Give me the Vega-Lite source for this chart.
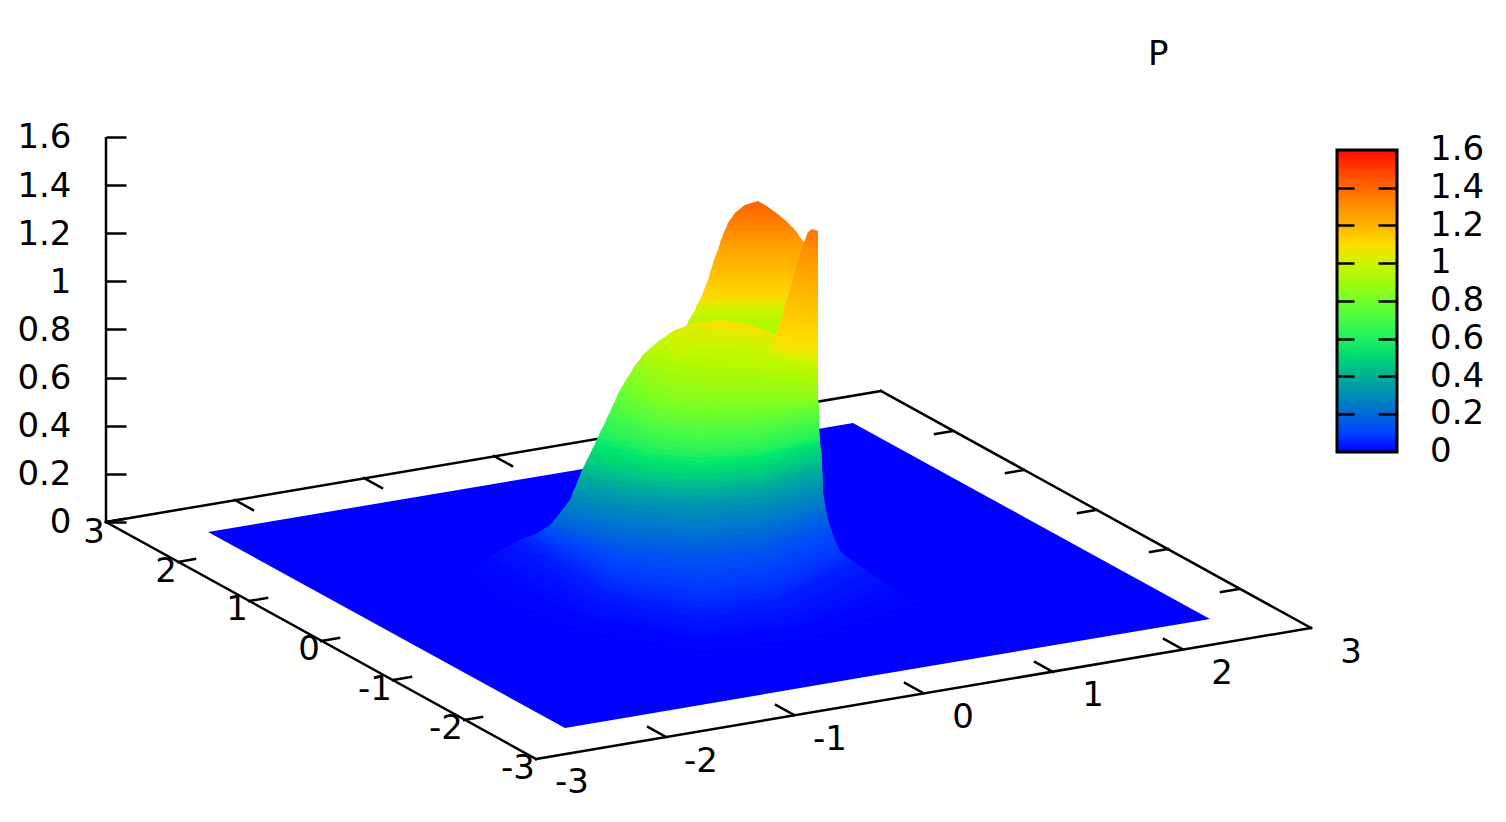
{"$schema":"https://vega.github.io/schema/vega-lite/v6.json","width":1506,"height":822,"autosize":"none","padding":0,"background":"white","config":{"view":{"stroke":null}},
"title":{"text":"P","anchor":"start","frame":"group","dx":1148,"dy":99,"offset":0,"fontSize":34,"font":"DejaVu Sans","fontWeight":"normal","color":"black","baseline":"alphabetic"},
"datasets":{
"plane":[{"x":208,"t":532,"b":532,"z":0},{"x":565,"t":472,"b":728,"z":0},{"x":853,"t":423,"b":679,"z":0},{"x":1210,"t":619,"b":619,"z":0}],
"lines":[{"x":106,"y":522,"x2":536,"y2":759},{"x":536,"y":759,"x2":1311,"y2":628},{"x":1311,"y":628,"x2":881,"y2":391},{"x":881,"y":391,"x2":106,"y2":522},
{"x":666,"y":737,"x2":648,"y2":727},{"x":794,"y":715,"x2":776,"y2":705},{"x":923,"y":693,"x2":905,"y2":683},{"x":1053,"y":672,"x2":1035,"y2":662},{"x":1182,"y":649,"x2":1164,"y2":639},
{"x":106,"y":522,"x2":124,"y2":519},{"x":178,"y":562,"x2":195,"y2":559},{"x":249,"y":601,"x2":267,"y2":598},{"x":321,"y":641,"x2":339,"y2":638},{"x":393,"y":680,"x2":411,"y2":677},{"x":464,"y":720,"x2":482,"y2":717},
{"x":953,"y":431,"x2":935,"y2":434},{"x":1024,"y":470,"x2":1006,"y2":473},{"x":1096,"y":510,"x2":1078,"y2":513},{"x":1168,"y":549,"x2":1150,"y2":552},{"x":1239,"y":589,"x2":1221,"y2":592},
{"x":235,"y":500,"x2":253,"y2":510},{"x":364,"y":478,"x2":382,"y2":488},{"x":494,"y":456,"x2":512,"y2":466},{"x":623,"y":435,"x2":641,"y2":445},{"x":752,"y":413,"x2":770,"y2":423}],
"barticks":[{"x":1337,"v":0.2},{"x":1337,"v":0.4},{"x":1337,"v":0.6},{"x":1337,"v":0.8},{"x":1337,"v":1},{"x":1337,"v":1.2},{"x":1337,"v":1.4}],
"labels":[{"s":"3","x":94,"y":531},{"s":"2","x":166,"y":570},{"s":"1","x":237,"y":608},{"s":"0","x":309,"y":648},{"s":"-1","x":375,"y":688},{"s":"-2","x":446,"y":727},{"s":"-3","x":518,"y":767},
{"s":"-3","x":572,"y":781},{"s":"-2","x":701,"y":760},{"s":"-1","x":830,"y":738},{"s":"0","x":963,"y":716},{"s":"1","x":1093,"y":694},{"s":"2","x":1222,"y":672},{"s":"3","x":1351,"y":651}],
"zaxis":[{"x":106,"z0":0,"z1":1.6}],
"surface":[
{"k":0,"z":0.88,"x":675,"t":360,"b":360},{"k":0,"z":0.88,"x":680,"t":345,"b":360},{"k":0,"z":0.88,"x":810,"t":345,"b":360},
{"k":1,"z":0.9,"x":680,"t":345,"b":345},{"k":1,"z":0.9,"x":685,"t":330,"b":345},{"k":1,"z":0.9,"x":810,"t":330,"b":345},
{"k":1.5,"z":0.915,"x":683,"t":338,"b":338},{"k":1.5,"z":0.915,"x":685,"t":330,"b":338},{"k":1.5,"z":0.915,"x":810,"t":330,"b":338},
{"k":2,"z":0.93,"x":685,"t":330,"b":330},{"k":2,"z":0.93,"x":689,"t":320,"b":330},{"k":2,"z":0.93,"x":810,"t":320,"b":330},
{"k":2.5,"z":0.945,"x":687,"t":325,"b":325},{"k":2.5,"z":0.945,"x":689,"t":320,"b":325},{"k":2.5,"z":0.945,"x":810,"t":320,"b":325},
{"k":3,"z":0.96,"x":689,"t":320,"b":320},{"k":3,"z":0.96,"x":694,"t":312,"b":320},{"k":3,"z":0.96,"x":810,"t":312,"b":320},
{"k":3.5,"z":0.98,"x":692,"t":316,"b":316},{"k":3.5,"z":0.98,"x":694,"t":312,"b":316},{"k":3.5,"z":0.98,"x":810,"t":312,"b":316},
{"k":4,"z":1.0,"x":694,"t":312,"b":312},{"k":4,"z":1.0,"x":697,"t":305,"b":312},{"k":4,"z":1.0,"x":810,"t":305,"b":312},
{"k":4.5,"z":1.02,"x":696,"t":309,"b":309},{"k":4.5,"z":1.02,"x":697,"t":305,"b":309},{"k":4.5,"z":1.02,"x":810,"t":305,"b":309},
{"k":5,"z":1.05,"x":697,"t":305,"b":305},{"k":5,"z":1.05,"x":701,"t":298,"b":305},{"k":5,"z":1.05,"x":810,"t":298,"b":305},
{"k":5.5,"z":1.08,"x":699,"t":302,"b":302},{"k":5.5,"z":1.08,"x":701,"t":298,"b":302},{"k":5.5,"z":1.08,"x":810,"t":298,"b":302},
{"k":6,"z":1.11,"x":701,"t":298,"b":298},{"k":6,"z":1.11,"x":704,"t":290,"b":298},{"k":6,"z":1.11,"x":810,"t":290,"b":298},
{"k":6.5,"z":1.12,"x":703,"t":294,"b":294},{"k":6.5,"z":1.12,"x":704,"t":290,"b":294},{"k":6.5,"z":1.12,"x":810,"t":290,"b":294},
{"k":7,"z":1.13,"x":704,"t":290,"b":290},{"k":7,"z":1.13,"x":708,"t":280,"b":290},{"k":7,"z":1.13,"x":810,"t":280,"b":290},
{"k":7.5,"z":1.145,"x":706,"t":285,"b":285},{"k":7.5,"z":1.145,"x":708,"t":280,"b":285},{"k":7.5,"z":1.145,"x":810,"t":280,"b":285},
{"k":8,"z":1.16,"x":708,"t":280,"b":280},{"k":8,"z":1.16,"x":711,"t":270,"b":280},{"k":8,"z":1.16,"x":810,"t":270,"b":280},
{"k":8.5,"z":1.175,"x":710,"t":275,"b":275},{"k":8.5,"z":1.175,"x":711,"t":270,"b":275},{"k":8.5,"z":1.175,"x":810,"t":270,"b":275},
{"k":9,"z":1.19,"x":711,"t":270,"b":270},{"k":9,"z":1.19,"x":714,"t":260,"b":270},{"k":9,"z":1.19,"x":810,"t":260,"b":270},
{"k":9.5,"z":1.205,"x":713,"t":265,"b":265},{"k":9.5,"z":1.205,"x":714,"t":260,"b":265},{"k":9.5,"z":1.205,"x":810,"t":260,"b":265},
{"k":10,"z":1.22,"x":714,"t":260,"b":260},{"k":10,"z":1.22,"x":718,"t":250,"b":260},{"k":10,"z":1.22,"x":810,"t":250,"b":260},
{"k":10.5,"z":1.235,"x":716,"t":255,"b":255},{"k":10.5,"z":1.235,"x":718,"t":250,"b":255},{"k":10.5,"z":1.235,"x":810,"t":250,"b":255},
{"k":11,"z":1.25,"x":718,"t":250,"b":250},{"k":11,"z":1.25,"x":721,"t":240,"b":250},{"k":11,"z":1.25,"x":802,"t":240,"b":250},{"k":11,"z":1.25,"x":810,"t":250,"b":250},
{"k":11.5,"z":1.27,"x":720,"t":245,"b":245},{"k":11.5,"z":1.27,"x":721,"t":240,"b":245},{"k":11.5,"z":1.27,"x":802,"t":240,"b":245},{"k":11.5,"z":1.27,"x":806,"t":245,"b":245},
{"k":12,"z":1.29,"x":721,"t":240,"b":240},{"k":12,"z":1.29,"x":725,"t":230,"b":240},{"k":12,"z":1.29,"x":795,"t":230,"b":240},{"k":12,"z":1.29,"x":802,"t":240,"b":240},
{"k":12.5,"z":1.31,"x":723,"t":235,"b":235},{"k":12.5,"z":1.31,"x":725,"t":230,"b":235},{"k":12.5,"z":1.31,"x":795,"t":230,"b":235},{"k":12.5,"z":1.31,"x":798.5,"t":235,"b":235},
{"k":13,"z":1.33,"x":725,"t":230,"b":230},{"k":13,"z":1.33,"x":730,"t":220,"b":230},{"k":13,"z":1.33,"x":785,"t":220,"b":230},{"k":13,"z":1.33,"x":795,"t":230,"b":230},
{"k":13.5,"z":1.35,"x":727,"t":225,"b":225},{"k":13.5,"z":1.35,"x":730,"t":220,"b":225},{"k":13.5,"z":1.35,"x":785,"t":220,"b":225},{"k":13.5,"z":1.35,"x":790,"t":225,"b":225},
{"k":14,"z":1.37,"x":730,"t":220,"b":220},{"k":14,"z":1.37,"x":736,"t":212,"b":220},{"k":14,"z":1.37,"x":775,"t":212,"b":220},{"k":14,"z":1.37,"x":785,"t":220,"b":220},
{"k":14.5,"z":1.38,"x":733,"t":216,"b":216},{"k":14.5,"z":1.38,"x":736,"t":212,"b":216},{"k":14.5,"z":1.38,"x":775,"t":212,"b":216},{"k":14.5,"z":1.38,"x":780,"t":216,"b":216},
{"k":15,"z":1.39,"x":736,"t":212,"b":212},{"k":15,"z":1.39,"x":745,"t":205,"b":212},{"k":15,"z":1.39,"x":765,"t":205,"b":212},{"k":15,"z":1.39,"x":775,"t":212,"b":212},
{"k":15.5,"z":1.4,"x":740,"t":209,"b":209},{"k":15.5,"z":1.4,"x":745,"t":205,"b":209},{"k":15.5,"z":1.4,"x":765,"t":205,"b":209},{"k":15.5,"z":1.4,"x":770,"t":209,"b":209},
{"k":16,"z":1.41,"x":745,"t":205,"b":205},{"k":16,"z":1.41,"x":758,"t":201,"b":205},{"k":16,"z":1.41,"x":765,"t":205,"b":205},
{"k":20,"z":0.003,"x":465,"t":570,"b":570},{"k":20,"z":0.003,"x":500,"t":555,"b":600},{"k":20,"z":0.003,"x":580,"t":560,"b":632},{"k":20,"z":0.003,"x":700,"t":570,"b":652},{"k":20,"z":0.003,"x":810,"t":580,"b":640},{"k":20,"z":0.003,"x":900,"t":592,"b":610},{"k":20,"z":0.003,"x":925,"t":600,"b":600},
{"k":21,"z":0.008,"x":478,"t":562,"b":562},{"k":21,"z":0.008,"x":503,"t":549,"b":579},{"k":21,"z":0.008,"x":589,"t":556,"b":620},{"k":21,"z":0.008,"x":700,"t":565,"b":640},{"k":21,"z":0.008,"x":800,"t":573,"b":628},{"k":21,"z":0.008,"x":880,"t":580,"b":601},{"k":21,"z":0.008,"x":900,"t":592,"b":592},
{"k":21.5,"z":0.014,"x":491,"t":555,"b":555},{"k":21.5,"z":0.014,"x":503,"t":549,"b":564},{"k":21.5,"z":0.014,"x":589,"t":556,"b":614},{"k":21.5,"z":0.014,"x":700,"t":565,"b":634},{"k":21.5,"z":0.014,"x":800,"t":573,"b":622},{"k":21.5,"z":0.014,"x":880,"t":580,"b":590},{"k":21.5,"z":0.014,"x":890,"t":586,"b":586},
{"k":22,"z":0.022,"x":503,"t":549,"b":549},{"k":22,"z":0.022,"x":520,"t":540,"b":562},{"k":22,"z":0.022,"x":601,"t":545,"b":608},{"k":22,"z":0.022,"x":700,"t":552,"b":628},{"k":22,"z":0.022,"x":790,"t":558,"b":616},{"k":22,"z":0.022,"x":855,"t":562,"b":592},{"k":22,"z":0.022,"x":880,"t":580,"b":580},
{"k":22.5,"z":0.035,"x":512,"t":544,"b":544},{"k":22.5,"z":0.035,"x":520,"t":540,"b":551},{"k":22.5,"z":0.035,"x":601,"t":545,"b":601},{"k":22.5,"z":0.035,"x":700,"t":552,"b":620},{"k":22.5,"z":0.035,"x":790,"t":558,"b":608},{"k":22.5,"z":0.035,"x":855,"t":562,"b":577},{"k":22.5,"z":0.035,"x":867,"t":571,"b":571},
{"k":23,"z":0.05,"x":520,"t":540,"b":540},{"k":23,"z":0.05,"x":530,"t":536,"b":548},{"k":23,"z":0.05,"x":610,"t":541,"b":594},{"k":23,"z":0.05,"x":700,"t":547,"b":612},{"k":23,"z":0.05,"x":778,"t":552,"b":600},{"k":23,"z":0.05,"x":847,"t":557,"b":567},{"k":23,"z":0.05,"x":855,"t":562,"b":562},
{"k":23.5,"z":0.06,"x":525,"t":538,"b":538},{"k":23.5,"z":0.06,"x":530,"t":536,"b":542},{"k":23.5,"z":0.06,"x":610,"t":541,"b":590},{"k":23.5,"z":0.06,"x":700,"t":547,"b":607},{"k":23.5,"z":0.06,"x":778,"t":552,"b":596},{"k":23.5,"z":0.06,"x":847,"t":557,"b":562},{"k":23.5,"z":0.06,"x":851,"t":560,"b":560},
{"k":24,"z":0.07,"x":530,"t":536,"b":536},{"k":24,"z":0.07,"x":536,"t":534,"b":541},{"k":24,"z":0.07,"x":615,"t":538,"b":585},{"k":24,"z":0.07,"x":700,"t":543,"b":602},{"k":24,"z":0.07,"x":774,"t":547,"b":591},{"k":24,"z":0.07,"x":840,"t":551,"b":561},{"k":24,"z":0.07,"x":847,"t":557,"b":557},
{"k":24.5,"z":0.08,"x":533,"t":535,"b":535},{"k":24.5,"z":0.08,"x":536,"t":534,"b":538},{"k":24.5,"z":0.08,"x":615,"t":538,"b":580},{"k":24.5,"z":0.08,"x":700,"t":543,"b":596},{"k":24.5,"z":0.08,"x":774,"t":547,"b":586},{"k":24.5,"z":0.08,"x":840,"t":551,"b":556},{"k":24.5,"z":0.08,"x":844,"t":554,"b":554},
{"k":25,"z":0.09,"x":536,"t":534,"b":534},{"k":25,"z":0.09,"x":542,"t":530,"b":538},{"k":25,"z":0.09,"x":618,"t":532,"b":576},{"k":25,"z":0.09,"x":700,"t":534,"b":590},{"k":25,"z":0.09,"x":770,"t":536,"b":580},{"k":25,"z":0.09,"x":834,"t":538,"b":554},{"k":25,"z":0.09,"x":840,"t":551,"b":551},
{"k":25.5,"z":0.105,"x":539,"t":532,"b":532},{"k":25.5,"z":0.105,"x":542,"t":530,"b":534},{"k":25.5,"z":0.105,"x":618,"t":532,"b":569},{"k":25.5,"z":0.105,"x":700,"t":534,"b":581},{"k":25.5,"z":0.105,"x":770,"t":536,"b":572},{"k":25.5,"z":0.105,"x":834,"t":538,"b":546},{"k":25.5,"z":0.105,"x":837,"t":544,"b":544},
{"k":26,"z":0.12,"x":542,"t":530,"b":530},{"k":26,"z":0.12,"x":547,"t":527,"b":533},{"k":26,"z":0.12,"x":621,"t":527,"b":562},{"k":26,"z":0.12,"x":700,"t":527,"b":573},{"k":26,"z":0.12,"x":767,"t":527,"b":564},{"k":26,"z":0.12,"x":830,"t":526,"b":540},{"k":26,"z":0.12,"x":834,"t":538,"b":538},
{"k":26.5,"z":0.135,"x":545,"t":528,"b":528},{"k":26.5,"z":0.135,"x":547,"t":527,"b":530},{"k":26.5,"z":0.135,"x":621,"t":527,"b":556},{"k":26.5,"z":0.135,"x":700,"t":527,"b":566},{"k":26.5,"z":0.135,"x":767,"t":527,"b":557},{"k":26.5,"z":0.135,"x":830,"t":526,"b":533},{"k":26.5,"z":0.135,"x":832,"t":532,"b":532},
{"k":27,"z":0.15,"x":547,"t":527,"b":527},{"k":27,"z":0.15,"x":550,"t":525,"b":528},{"k":27,"z":0.15,"x":623,"t":524,"b":551},{"k":27,"z":0.15,"x":700,"t":522,"b":559},{"k":27,"z":0.15,"x":765,"t":521,"b":551},{"k":27,"z":0.15,"x":828,"t":520,"b":527},{"k":27,"z":0.15,"x":830,"t":526,"b":526},
{"k":27.5,"z":0.165,"x":549,"t":526,"b":526},{"k":27.5,"z":0.165,"x":550,"t":525,"b":526},{"k":27.5,"z":0.165,"x":623,"t":524,"b":547},{"k":27.5,"z":0.165,"x":700,"t":522,"b":554},{"k":27.5,"z":0.165,"x":765,"t":521,"b":546},{"k":27.5,"z":0.165,"x":828,"t":520,"b":523},{"k":27.5,"z":0.165,"x":829,"t":523,"b":523},
{"k":28,"z":0.18,"x":550,"t":525,"b":525},{"k":28,"z":0.18,"x":556,"t":518,"b":527},{"k":28,"z":0.18,"x":625,"t":516,"b":543},{"k":28,"z":0.18,"x":700,"t":514,"b":549},{"k":28,"z":0.18,"x":764,"t":512,"b":542},{"k":28,"z":0.18,"x":826,"t":510,"b":521},{"k":28,"z":0.18,"x":828,"t":520,"b":520},
{"k":28.5,"z":0.195,"x":553,"t":521,"b":521},{"k":28.5,"z":0.195,"x":556,"t":518,"b":522},{"k":28.5,"z":0.195,"x":625,"t":516,"b":539},{"k":28.5,"z":0.195,"x":700,"t":514,"b":544},{"k":28.5,"z":0.195,"x":764,"t":512,"b":537},{"k":28.5,"z":0.195,"x":826,"t":510,"b":515},{"k":28.5,"z":0.195,"x":827,"t":515,"b":515},
{"k":29,"z":0.21,"x":556,"t":518,"b":518},{"k":29,"z":0.21,"x":563,"t":509,"b":520},{"k":29,"z":0.21,"x":628,"t":508,"b":535},{"k":29,"z":0.21,"x":700,"t":506,"b":540},{"k":29,"z":0.21,"x":763,"t":505,"b":532},{"k":29,"z":0.21,"x":825,"t":504,"b":511},{"k":29,"z":0.21,"x":826,"t":510,"b":510},
{"k":29.5,"z":0.23,"x":560,"t":513,"b":513},{"k":29.5,"z":0.23,"x":563,"t":509,"b":514},{"k":29.5,"z":0.23,"x":628,"t":508,"b":529},{"k":29.5,"z":0.23,"x":700,"t":506,"b":534},{"k":29.5,"z":0.23,"x":763,"t":505,"b":527},{"k":29.5,"z":0.23,"x":825,"t":504,"b":507},{"k":29.5,"z":0.23,"x":825.5,"t":507,"b":507},
{"k":30,"z":0.25,"x":563,"t":509,"b":509},{"k":30,"z":0.25,"x":570,"t":500,"b":511},{"k":30,"z":0.25,"x":632,"t":498,"b":523},{"k":30,"z":0.25,"x":700,"t":496,"b":528},{"k":30,"z":0.25,"x":762,"t":495,"b":522},{"k":30,"z":0.25,"x":823,"t":493,"b":505},{"k":30,"z":0.25,"x":825,"t":504,"b":504},
{"k":30.5,"z":0.275,"x":566,"t":505,"b":505},{"k":30.5,"z":0.275,"x":570,"t":500,"b":505},{"k":30.5,"z":0.275,"x":632,"t":498,"b":517},{"k":30.5,"z":0.275,"x":700,"t":496,"b":521},{"k":30.5,"z":0.275,"x":762,"t":495,"b":515},{"k":30.5,"z":0.275,"x":823,"t":493,"b":499},{"k":30.5,"z":0.275,"x":824,"t":498,"b":498},
{"k":31,"z":0.3,"x":570,"t":500,"b":500},{"k":31,"z":0.3,"x":575,"t":488,"b":501},{"k":31,"z":0.3,"x":635,"t":486,"b":511},{"k":31,"z":0.3,"x":700,"t":484,"b":515},{"k":31,"z":0.3,"x":761,"t":482,"b":509},{"k":31,"z":0.3,"x":823,"t":480,"b":493},
{"k":31.5,"z":0.325,"x":572,"t":494,"b":494},{"k":31.5,"z":0.325,"x":575,"t":488,"b":495},{"k":31.5,"z":0.325,"x":635,"t":486,"b":505},{"k":31.5,"z":0.325,"x":700,"t":484,"b":509},{"k":31.5,"z":0.325,"x":761,"t":482,"b":503},{"k":31.5,"z":0.325,"x":823,"t":480,"b":487},
{"k":32,"z":0.35,"x":575,"t":488,"b":488},{"k":32,"z":0.35,"x":579,"t":478,"b":489},{"k":32,"z":0.35,"x":637,"t":476,"b":499},{"k":32,"z":0.35,"x":700,"t":474,"b":503},{"k":32,"z":0.35,"x":761,"t":472,"b":497},{"k":32,"z":0.35,"x":822,"t":470,"b":481},{"k":32,"z":0.35,"x":823,"t":480,"b":480},
{"k":32.5,"z":0.375,"x":577,"t":483,"b":483},{"k":32.5,"z":0.375,"x":579,"t":478,"b":484},{"k":32.5,"z":0.375,"x":637,"t":476,"b":495},{"k":32.5,"z":0.375,"x":700,"t":474,"b":499},{"k":32.5,"z":0.375,"x":761,"t":472,"b":493},{"k":32.5,"z":0.375,"x":822,"t":470,"b":476},{"k":32.5,"z":0.375,"x":822.5,"t":475,"b":475},
{"k":33,"z":0.4,"x":579,"t":478,"b":478},{"k":33,"z":0.4,"x":583,"t":468,"b":479},{"k":33,"z":0.4,"x":640,"t":466,"b":490},{"k":33,"z":0.4,"x":700,"t":464,"b":494},{"k":33,"z":0.4,"x":761,"t":462,"b":488},{"k":33,"z":0.4,"x":822,"t":460,"b":470},
{"k":33.5,"z":0.425,"x":581,"t":473,"b":473},{"k":33.5,"z":0.425,"x":583,"t":468,"b":474},{"k":33.5,"z":0.425,"x":640,"t":466,"b":485},{"k":33.5,"z":0.425,"x":700,"t":464,"b":489},{"k":33.5,"z":0.425,"x":761,"t":462,"b":483},{"k":33.5,"z":0.425,"x":822,"t":460,"b":465},
{"k":34,"z":0.45,"x":583,"t":468,"b":468},{"k":34,"z":0.45,"x":588,"t":458,"b":469},{"k":34,"z":0.45,"x":641,"t":456,"b":480},{"k":34,"z":0.45,"x":700,"t":454,"b":484},{"k":34,"z":0.45,"x":761,"t":452,"b":478},{"k":34,"z":0.45,"x":821,"t":450,"b":461},{"k":34,"z":0.45,"x":822,"t":460,"b":460},
{"k":34.5,"z":0.475,"x":586,"t":463,"b":463},{"k":34.5,"z":0.475,"x":588,"t":458,"b":464},{"k":34.5,"z":0.475,"x":641,"t":456,"b":476},{"k":34.5,"z":0.475,"x":700,"t":454,"b":480},{"k":34.5,"z":0.475,"x":761,"t":452,"b":474},{"k":34.5,"z":0.475,"x":821,"t":450,"b":456},{"k":34.5,"z":0.475,"x":821.5,"t":455,"b":455},
{"k":35,"z":0.5,"x":588,"t":458,"b":458},{"k":35,"z":0.5,"x":593,"t":448,"b":459},{"k":35,"z":0.5,"x":644,"t":447,"b":471},{"k":35,"z":0.5,"x":700,"t":446,"b":475},{"k":35,"z":0.5,"x":760,"t":444,"b":469},{"k":35,"z":0.5,"x":820,"t":443,"b":451},{"k":35,"z":0.5,"x":821,"t":450,"b":450},
{"k":35.5,"z":0.525,"x":591,"t":453,"b":453},{"k":35.5,"z":0.525,"x":593,"t":448,"b":454},{"k":35.5,"z":0.525,"x":644,"t":447,"b":466},{"k":35.5,"z":0.525,"x":700,"t":446,"b":470},{"k":35.5,"z":0.525,"x":760,"t":444,"b":465},{"k":35.5,"z":0.525,"x":820,"t":443,"b":447},{"k":35.5,"z":0.525,"x":820.5,"t":447,"b":447},
{"k":36,"z":0.55,"x":593,"t":448,"b":448},{"k":36,"z":0.55,"x":598,"t":437,"b":449},{"k":36,"z":0.55,"x":646,"t":437,"b":461},{"k":36,"z":0.55,"x":700,"t":437,"b":466},{"k":36,"z":0.55,"x":760,"t":438,"b":460},{"k":36,"z":0.55,"x":820,"t":438,"b":443},
{"k":36.5,"z":0.575,"x":596,"t":442,"b":442},{"k":36.5,"z":0.575,"x":598,"t":437,"b":443},{"k":36.5,"z":0.575,"x":646,"t":437,"b":457},{"k":36.5,"z":0.575,"x":700,"t":437,"b":462},{"k":36.5,"z":0.575,"x":760,"t":438,"b":456},{"k":36.5,"z":0.575,"x":820,"t":438,"b":441},
{"k":37,"z":0.6,"x":598,"t":437,"b":437},{"k":37,"z":0.6,"x":603,"t":427,"b":439},{"k":37,"z":0.6,"x":649,"t":428,"b":453},{"k":37,"z":0.6,"x":700,"t":428,"b":458},{"k":37,"z":0.6,"x":760,"t":429,"b":453},{"k":37,"z":0.6,"x":819,"t":430,"b":439},{"k":37,"z":0.6,"x":820,"t":438,"b":438},
{"k":37.5,"z":0.625,"x":600,"t":432,"b":432},{"k":37.5,"z":0.625,"x":603,"t":427,"b":433},{"k":37.5,"z":0.625,"x":649,"t":428,"b":448},{"k":37.5,"z":0.625,"x":700,"t":428,"b":454},{"k":37.5,"z":0.625,"x":760,"t":429,"b":449},{"k":37.5,"z":0.625,"x":819,"t":430,"b":435},{"k":37.5,"z":0.625,"x":819.5,"t":434,"b":434},
{"k":38,"z":0.65,"x":603,"t":427,"b":427},{"k":38,"z":0.65,"x":609,"t":414,"b":430},{"k":38,"z":0.65,"x":651,"t":416,"b":444},{"k":38,"z":0.65,"x":700,"t":417,"b":450},{"k":38,"z":0.65,"x":759,"t":420,"b":445},{"k":38,"z":0.65,"x":819,"t":422,"b":430},
{"k":38.5,"z":0.675,"x":606,"t":420,"b":420},{"k":38.5,"z":0.675,"x":609,"t":414,"b":422},{"k":38.5,"z":0.675,"x":651,"t":416,"b":438},{"k":38.5,"z":0.675,"x":700,"t":417,"b":445},{"k":38.5,"z":0.675,"x":759,"t":420,"b":440},{"k":38.5,"z":0.675,"x":819,"t":422,"b":426},
{"k":39,"z":0.7,"x":609,"t":414,"b":414},{"k":39,"z":0.7,"x":614,"t":403,"b":417},{"k":39,"z":0.7,"x":654,"t":405,"b":433},{"k":39,"z":0.7,"x":700,"t":408,"b":440},{"k":39,"z":0.7,"x":759,"t":411,"b":435},{"k":39,"z":0.7,"x":819,"t":414,"b":422},
{"k":39.5,"z":0.725,"x":612,"t":408,"b":408},{"k":39.5,"z":0.725,"x":614,"t":403,"b":410},{"k":39.5,"z":0.725,"x":654,"t":405,"b":428},{"k":39.5,"z":0.725,"x":700,"t":408,"b":434},{"k":39.5,"z":0.725,"x":759,"t":411,"b":430},{"k":39.5,"z":0.725,"x":819,"t":414,"b":418},
{"k":40,"z":0.75,"x":614,"t":403,"b":403},{"k":40,"z":0.75,"x":620,"t":390,"b":406},{"k":40,"z":0.75,"x":657,"t":393,"b":422},{"k":40,"z":0.75,"x":700,"t":396,"b":428},{"k":40,"z":0.75,"x":759,"t":401,"b":424},{"k":40,"z":0.75,"x":819,"t":406,"b":414},
{"k":40.5,"z":0.775,"x":617,"t":396,"b":396},{"k":40.5,"z":0.775,"x":620,"t":390,"b":398},{"k":40.5,"z":0.775,"x":657,"t":393,"b":415},{"k":40.5,"z":0.775,"x":700,"t":396,"b":422},{"k":40.5,"z":0.775,"x":759,"t":401,"b":418},{"k":40.5,"z":0.775,"x":819,"t":406,"b":410},
{"k":41,"z":0.8,"x":620,"t":390,"b":390},{"k":41,"z":0.8,"x":628,"t":377,"b":394},{"k":41,"z":0.8,"x":660,"t":381,"b":409},{"k":41,"z":0.8,"x":700,"t":386,"b":415},{"k":41,"z":0.8,"x":759,"t":393,"b":412},{"k":41,"z":0.8,"x":818,"t":400,"b":407},{"k":41,"z":0.8,"x":819,"t":406,"b":406},
{"k":41.5,"z":0.825,"x":624,"t":383,"b":383},{"k":41.5,"z":0.825,"x":628,"t":377,"b":385},{"k":41.5,"z":0.825,"x":660,"t":381,"b":403},{"k":41.5,"z":0.825,"x":700,"t":386,"b":408},{"k":41.5,"z":0.825,"x":759,"t":393,"b":406},{"k":41.5,"z":0.825,"x":818,"t":400,"b":403},{"k":41.5,"z":0.825,"x":818.5,"t":403,"b":403},
{"k":42,"z":0.85,"x":628,"t":377,"b":377},{"k":42,"z":0.85,"x":637,"t":363,"b":382},{"k":42,"z":0.85,"x":664,"t":367,"b":396},{"k":42,"z":0.85,"x":700,"t":372,"b":402},{"k":42,"z":0.85,"x":759,"t":381,"b":401},{"k":42,"z":0.85,"x":818,"t":390,"b":400},
{"k":42.5,"z":0.875,"x":632,"t":370,"b":370},{"k":42.5,"z":0.875,"x":637,"t":363,"b":372},{"k":42.5,"z":0.875,"x":664,"t":367,"b":388},{"k":42.5,"z":0.875,"x":700,"t":372,"b":393},{"k":42.5,"z":0.875,"x":759,"t":381,"b":393},{"k":42.5,"z":0.875,"x":818,"t":390,"b":395},
{"k":43,"z":0.9,"x":637,"t":363,"b":363},{"k":43,"z":0.9,"x":646,"t":352,"b":368},{"k":43,"z":0.9,"x":668,"t":355,"b":380},{"k":43,"z":0.9,"x":700,"t":359,"b":385},{"k":43,"z":0.9,"x":759,"t":367,"b":386},{"k":43,"z":0.9,"x":818,"t":375,"b":390},
{"k":43.5,"z":0.925,"x":641,"t":357,"b":357},{"k":43.5,"z":0.925,"x":646,"t":352,"b":360},{"k":43.5,"z":0.925,"x":668,"t":355,"b":372},{"k":43.5,"z":0.925,"x":700,"t":359,"b":376},{"k":43.5,"z":0.925,"x":759,"t":367,"b":378},{"k":43.5,"z":0.925,"x":818,"t":375,"b":382},
{"k":44,"z":0.95,"x":646,"t":352,"b":352},{"k":44,"z":0.95,"x":660,"t":340,"b":358},{"k":44,"z":0.95,"x":680,"t":335,"b":364},{"k":44,"z":0.95,"x":700,"t":333,"b":366},{"k":44,"z":0.95,"x":760,"t":342,"b":370},{"k":44,"z":0.95,"x":818,"t":360,"b":375},
{"k":44.5,"z":0.975,"x":653,"t":346,"b":346},{"k":44.5,"z":0.975,"x":660,"t":340,"b":349},{"k":44.5,"z":0.975,"x":680,"t":335,"b":355},{"k":44.5,"z":0.975,"x":700,"t":333,"b":356},{"k":44.5,"z":0.975,"x":760,"t":342,"b":361},{"k":44.5,"z":0.975,"x":818,"t":360,"b":367},
{"k":45,"z":1.0,"x":660,"t":340,"b":340},{"k":45,"z":1.0,"x":675,"t":330,"b":345},{"k":45,"z":1.0,"x":700,"t":326,"b":347},{"k":45,"z":1.0,"x":745,"t":328,"b":350},{"k":45,"z":1.0,"x":790,"t":340,"b":355},{"k":45,"z":1.0,"x":818,"t":360,"b":360},
{"k":45.5,"z":1.02,"x":667,"t":335,"b":335},{"k":45.5,"z":1.02,"x":675,"t":330,"b":337},{"k":45.5,"z":1.02,"x":695,"t":323,"b":339},{"k":45.5,"z":1.02,"x":720,"t":322,"b":341},{"k":45.5,"z":1.02,"x":745,"t":324,"b":342},{"k":45.5,"z":1.02,"x":770,"t":332,"b":345},{"k":45.5,"z":1.02,"x":790,"t":340,"b":347},{"k":45.5,"z":1.02,"x":804,"t":350,"b":350},
{"k":46,"z":1.04,"x":675,"t":330,"b":330},{"k":46,"z":1.04,"x":695,"t":323,"b":329},{"k":46,"z":1.04,"x":720,"t":322,"b":333},{"k":46,"z":1.04,"x":745,"t":324,"b":335},{"k":46,"z":1.04,"x":770,"t":332,"b":337},{"k":46,"z":1.04,"x":790,"t":340,"b":340},
{"k":46.5,"z":1.06,"x":685,"t":326,"b":326},{"k":46.5,"z":1.06,"x":695,"t":323,"b":326},{"k":46.5,"z":1.06,"x":720,"t":321,"b":330},{"k":46.5,"z":1.06,"x":745,"t":323,"b":332},{"k":46.5,"z":1.06,"x":770,"t":332,"b":334},{"k":46.5,"z":1.06,"x":780,"t":336,"b":336},
{"k":47,"z":1.08,"x":695,"t":323,"b":323},{"k":47,"z":1.08,"x":720,"t":320,"b":326},{"k":47,"z":1.08,"x":745,"t":323,"b":330},{"k":47,"z":1.08,"x":770,"t":332,"b":332},
{"k":51,"z":1.0,"x":768,"t":355,"b":355},{"k":51,"z":1.0,"x":771,"t":350,"b":356},{"k":51,"z":1.0,"x":818,"t":350,"b":368},
{"k":51.5,"z":1.03,"x":770,"t":352,"b":352},{"k":51.5,"z":1.03,"x":771,"t":350,"b":353},{"k":51.5,"z":1.03,"x":818,"t":350,"b":361},
{"k":52,"z":1.06,"x":771,"t":350,"b":350},{"k":52,"z":1.06,"x":776,"t":335,"b":352},{"k":52,"z":1.06,"x":818,"t":335,"b":355},
{"k":52.5,"z":1.085,"x":774,"t":342,"b":342},{"k":52.5,"z":1.085,"x":776,"t":335,"b":344},{"k":52.5,"z":1.085,"x":818,"t":335,"b":347},
{"k":53,"z":1.11,"x":776,"t":335,"b":335},{"k":53,"z":1.11,"x":781,"t":320,"b":336},{"k":53,"z":1.11,"x":818,"t":320,"b":340},
{"k":53.5,"z":1.125,"x":779,"t":327,"b":327},{"k":53.5,"z":1.125,"x":781,"t":320,"b":329},{"k":53.5,"z":1.125,"x":818,"t":320,"b":332},
{"k":54,"z":1.14,"x":781,"t":320,"b":320},{"k":54,"z":1.14,"x":785,"t":305,"b":321},{"k":54,"z":1.14,"x":818,"t":305,"b":325},
{"k":54.5,"z":1.155,"x":783,"t":312,"b":312},{"k":54.5,"z":1.155,"x":785,"t":305,"b":313},{"k":54.5,"z":1.155,"x":818,"t":305,"b":317},
{"k":55,"z":1.17,"x":785,"t":305,"b":305},{"k":55,"z":1.17,"x":790,"t":290,"b":306},{"k":55,"z":1.17,"x":818,"t":290,"b":310},
{"k":55.5,"z":1.185,"x":788,"t":297,"b":297},{"k":55.5,"z":1.185,"x":790,"t":290,"b":298},{"k":55.5,"z":1.185,"x":818,"t":290,"b":302},
{"k":56,"z":1.2,"x":790,"t":290,"b":290},{"k":56,"z":1.2,"x":794,"t":275,"b":291},{"k":56,"z":1.2,"x":818,"t":275,"b":295},
{"k":56.5,"z":1.22,"x":792,"t":282,"b":282},{"k":56.5,"z":1.22,"x":794,"t":275,"b":283},{"k":56.5,"z":1.22,"x":818,"t":275,"b":287},
{"k":57,"z":1.24,"x":794,"t":275,"b":275},{"k":57,"z":1.24,"x":798,"t":260,"b":276},{"k":57,"z":1.24,"x":818,"t":260,"b":280},
{"k":57.5,"z":1.26,"x":796,"t":267,"b":267},{"k":57.5,"z":1.26,"x":798,"t":260,"b":268},{"k":57.5,"z":1.26,"x":818,"t":260,"b":272},
{"k":58,"z":1.28,"x":798,"t":260,"b":260},{"k":58,"z":1.28,"x":803,"t":245,"b":261},{"k":58,"z":1.28,"x":818,"t":245,"b":265},
{"k":58.5,"z":1.305,"x":801,"t":252,"b":252},{"k":58.5,"z":1.305,"x":803,"t":245,"b":253},{"k":58.5,"z":1.305,"x":818,"t":245,"b":257},
{"k":59,"z":1.33,"x":803,"t":245,"b":245},{"k":59,"z":1.33,"x":808,"t":232,"b":246},{"k":59,"z":1.33,"x":818,"t":232,"b":250},
{"k":59.5,"z":1.35,"x":806,"t":238,"b":238},{"k":59.5,"z":1.35,"x":808,"t":232,"b":239},{"k":59.5,"z":1.35,"x":818,"t":232,"b":242},
{"k":60,"z":1.37,"x":808,"t":232,"b":232},{"k":60,"z":1.37,"x":812,"t":229,"b":233},{"k":60,"z":1.37,"x":818,"t":231,"b":235}
]},
"resolve":{"scale":{"y":"independent"},"axis":{"y":"independent"}},
"layer":[
{"data":{"name":"zaxis"},"mark":{"type":"rule","stroke":"black","strokeWidth":2.5},"encoding":{
"x":{"field":"x","type":"quantitative","scale":{"domain":[0,1506],"nice":false,"zero":false},"axis":null},
"y":{"field":"z0","type":"quantitative","scale":{"domain":[-1.2468,2.1693],"nice":false,"zero":false},"axis":{"values":[0,0.2,0.4,0.6,0.8,1,1.2,1.4,1.6],"format":"~g","title":null,"domain":false,"grid":false,"offset":-106,"tickSize":-20,"tickWidth":2.5,"tickColor":"black","labelColor":"black","labelFont":"DejaVu Sans","labelFontSize":34,"labelPadding":55,"labelOffset":1,"labelOverlap":false,"labelFlush":false}},
"y2":{"field":"z1"}}},
{"data":{"name":"lines"},"mark":{"type":"rule","stroke":"black","strokeWidth":2.5,"strokeCap":"square"},"encoding":{
"x":{"field":"x","type":"quantitative","scale":{"domain":[0,1506],"nice":false,"zero":false},"axis":null},"x2":{"field":"x2"},
"y":{"field":"y","type":"quantitative","scale":{"domain":[822,0],"nice":false,"zero":false},"axis":null},"y2":{"field":"y2"}}},
{"data":{"name":"plane"},"mark":{"type":"area","interpolate":"linear"},"encoding":{
"x":{"field":"x","type":"quantitative","scale":{"domain":[0,1506],"nice":false,"zero":false},"axis":null},
"y":{"field":"t","type":"quantitative","stack":null,"scale":{"domain":[822,0],"nice":false,"zero":false},"axis":null},"y2":{"field":"b"},
"color":{"field":"z","type":"quantitative","scale":{"domain":[0,0.05,0.1,0.15,0.2,0.3,0.4,0.5,0.55,0.6,0.7,0.8,0.9,1,1.1,1.2,1.3,1.4,1.5,1.6],"range":["#0000ff","#0020ff","#0040ff","#0055eb","#0069d7","#008cb4","#00af96","#00d773","#00e66e","#1ef05f","#46fa46","#73ff28","#a0fa0f","#cdf500","#ffdc00","#ffb400","#ff9100","#ff6900","#ff3c00","#ff0a00"]},
"legend":{"orient":"none","legendX":1337,"legendY":150,"title":null,"values":[0,0.2,0.4,0.6,0.8,1,1.2,1.4,1.6],"format":"~g","gradientLength":302,"gradientThickness":60,"gradientStrokeColor":"black","gradientStrokeWidth":3,"labelFont":"DejaVu Sans","labelFontSize":34,"labelColor":"black","labelOffset":33,"labelOverlap":false,"labelBaseline":"middle","encoding":{"labels":{"baseline":{"value":"middle"}}}}}}},
{"data":{"name":"surface"},"mark":{"type":"area","interpolate":"linear"},"encoding":{
"x":{"field":"x","type":"quantitative","scale":{"domain":[0,1506],"nice":false,"zero":false},"axis":null},
"y":{"field":"t","type":"quantitative","stack":null,"scale":{"domain":[822,0],"nice":false,"zero":false},"axis":null},"y2":{"field":"b"},
"detail":{"field":"k","type":"nominal"},
"color":{"field":"z","type":"quantitative"}}},
{"data":{"name":"barticks"},"mark":{"type":"rule","opacity":0},"encoding":{
"x":{"field":"x","type":"quantitative","scale":{"domain":[0,1506],"nice":false,"zero":false},"axis":null},
"y":{"field":"v","type":"quantitative","scale":{"domain":[-1.9603,2.3947],"nice":false,"zero":false},"axis":{"orient":"left","values":[0.2,0.4,0.6,0.8,1,1.2,1.4],"title":null,"domain":false,"grid":false,"labels":false,"offset":-1337,"tickSize":-17,"tickWidth":2.5,"tickColor":"black","zindex":2}}}},
{"data":{"name":"barticks"},"mark":{"type":"rule","opacity":0},"encoding":{
"x":{"field":"x","type":"quantitative","scale":{"domain":[0,1506],"nice":false,"zero":false},"axis":null},
"y":{"field":"v","type":"quantitative","scale":{"domain":[-1.9603,2.3947],"nice":false,"zero":false},"axis":{"orient":"right","values":[0.2,0.4,0.6,0.8,1,1.2,1.4],"title":null,"domain":false,"grid":false,"labels":false,"offset":-109,"tickSize":-19,"tickWidth":2.5,"tickColor":"black","zindex":2}}}},
{"data":{"name":"labels"},"mark":{"type":"text","font":"DejaVu Sans","fontSize":34,"color":"black","align":"center","baseline":"middle","dy":2},"encoding":{
"x":{"field":"x","type":"quantitative","scale":{"domain":[0,1506],"nice":false,"zero":false},"axis":null},
"y":{"field":"y","type":"quantitative","scale":{"domain":[822,0],"nice":false,"zero":false},"axis":null},
"text":{"field":"s","type":"nominal"}}}
]}
